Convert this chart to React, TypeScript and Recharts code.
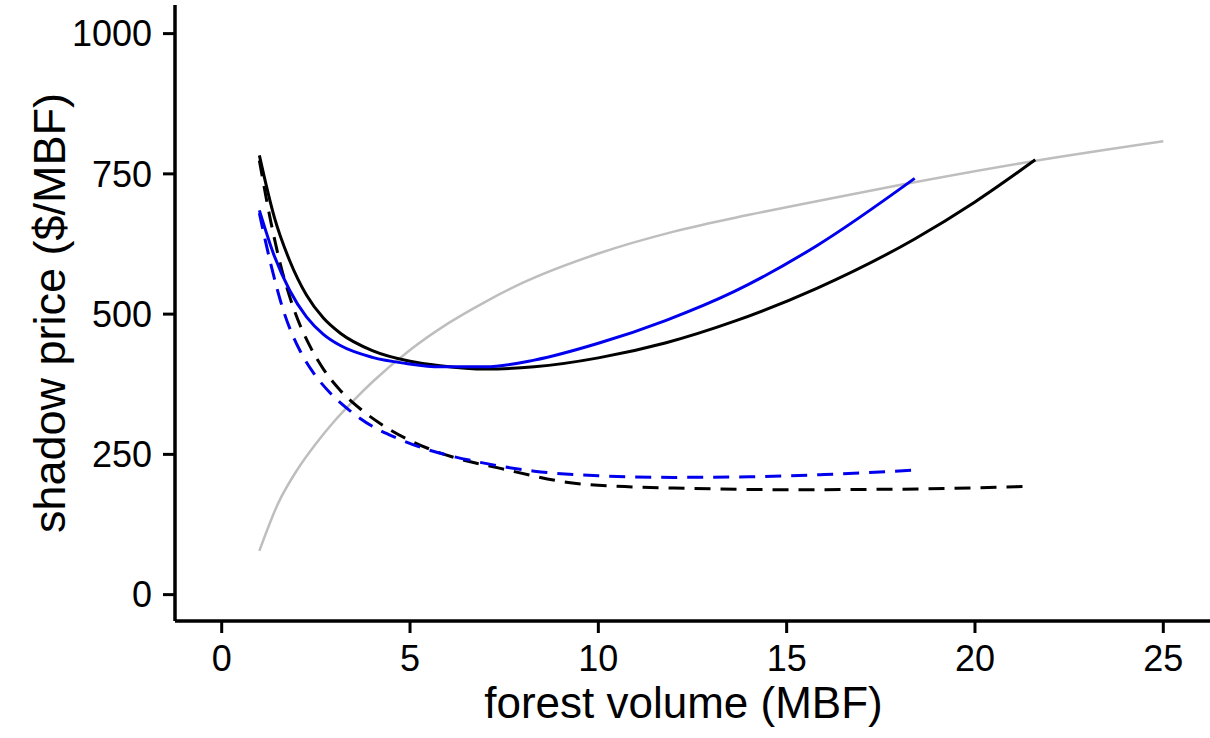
import React from 'react';
import { LineChart, Line, XAxis, YAxis } from 'recharts';

// forest volume (MBF) / shadow price ($/MBF)
const grayX = [1, 1.5, 2, 2.5, 3, 3.5, 4, 5, 6, 7, 8, 10, 12, 14, 16, 18, 21.5, 25];
const grayY = [78, 163, 222, 269, 310, 346, 379, 436, 483, 522, 556, 608, 647, 677, 704, 730, 772, 808];

const blackX = [1, 1.4, 1.8, 2.25, 2.7, 3.15, 4, 5, 5.8, 7, 8.3, 10, 11.8, 13.6, 15.8, 18.4, 20, 21.6];
const blackY = [783, 672, 596, 534, 493, 466, 435, 416, 408, 402, 406, 422, 449, 487, 546, 634, 700, 775];

const blueX = [1, 1.4, 1.8, 2.25, 2.7, 3.15, 4, 4.9, 5.8, 7, 8.3, 10, 11.8, 13.6, 15.8, 18.4];
const blueY = [685, 603, 543, 495, 464, 444, 423, 412, 406, 406, 418, 448, 489, 540, 622, 742];

const blackDashX = [1, 1.3, 1.55, 1.9, 2.35, 2.7, 3.15, 3.7, 4.3, 4.9, 5.5, 6.2, 7.4, 9.2, 10.9, 12, 15, 18, 21.4];
const blackDashY = [774, 666, 591, 512, 442, 402, 364, 330, 301, 278, 260, 244, 225, 200, 192, 190, 187, 188, 193];

const blueDashX = [1, 1.3, 1.65, 2.1, 2.45, 2.9, 3.4, 4, 4.65, 5.35, 6.1, 6.7, 8.3, 10, 12, 14, 16, 18.4];
const blueDashY = [680, 590, 504, 432, 394, 358, 328, 300, 279, 261, 247, 238, 220, 212, 209, 210, 214, 222];

const xTicks = [0, 5, 10, 15, 20, 25];
const yTicks = [0, 250, 500, 750, 1000];

const toRows = (xs: number[], ys: number[]) => xs.map((x, i) => ({ x, y: ys[i] }));

const XTitle = (props: any) => {
    const { viewBox } = props;
    return (
        <text x={viewBox.x + viewBox.width / 2 - 9} y={viewBox.y + 97} textAnchor="middle" fontSize={44} fill="#000">
            forest volume (MBF)
        </text>
    );
};

const YTitle = (props: any) => {
    const { viewBox } = props;
    const cy = viewBox.y + viewBox.height / 2;
    return (
        <text x={65} y={cy} textAnchor="middle" fontSize={45} fill="#000" transform={`rotate(-90, 65, ${cy})`}>
            shadow price ($/MBF)
        </text>
    );
};

const axisStyle = { stroke: '#000', strokeWidth: 3.5 };
const tickStyle = { fill: '#000', fontSize: 36 };

export default function App() {
    return (
        <div style={{ position: 'absolute', left: 0, top: 0, fontFamily: '"Liberation Sans", Arial, sans-serif' }}>
            <LineChart width={1210} height={738} margin={{ top: 5, right: 0, left: 0, bottom: 0 }}>
                <XAxis
                    type="number"
                    dataKey="x"
                    domain={[-1.24, 26.24]}
                    ticks={xTicks}
                    allowDataOverflow
                    height={117}
                    axisLine={axisStyle}
                    tickLine={{ stroke: '#000', strokeWidth: 3 }}
                    tickSize={12}
                    tickMargin={12}
                    tick={tickStyle}
                    label={<XTitle />}
                />
                <YAxis
                    type="number"
                    dataKey="y"
                    domain={[-47, 1051]}
                    ticks={yTicks}
                    allowDataOverflow
                    width={175}
                    axisLine={axisStyle}
                    tickLine={{ stroke: '#000', strokeWidth: 3 }}
                    tickSize={12}
                    tickMargin={11}
                    tick={tickStyle}
                    label={<YTitle />}
                />
                <Line data={toRows(grayX, grayY)} dataKey="y" type="monotone" stroke="#bebebe" strokeWidth={2.5} dot={false} isAnimationActive={false} />
                <Line data={toRows(blackDashX, blackDashY)} dataKey="y" type="monotone" stroke="#000" strokeWidth={3} strokeDasharray="16 10" dot={false} isAnimationActive={false} />
                <Line data={toRows(blueDashX, blueDashY)} dataKey="y" type="monotone" stroke="#0000ee" strokeWidth={3} strokeDasharray="16 10" dot={false} isAnimationActive={false} />
                <Line data={toRows(blackX, blackY)} dataKey="y" type="monotone" stroke="#000" strokeWidth={3} dot={false} isAnimationActive={false} />
                <Line data={toRows(blueX, blueY)} dataKey="y" type="monotone" stroke="#0000ee" strokeWidth={3} dot={false} isAnimationActive={false} />
            </LineChart>
        </div>
    );
}
